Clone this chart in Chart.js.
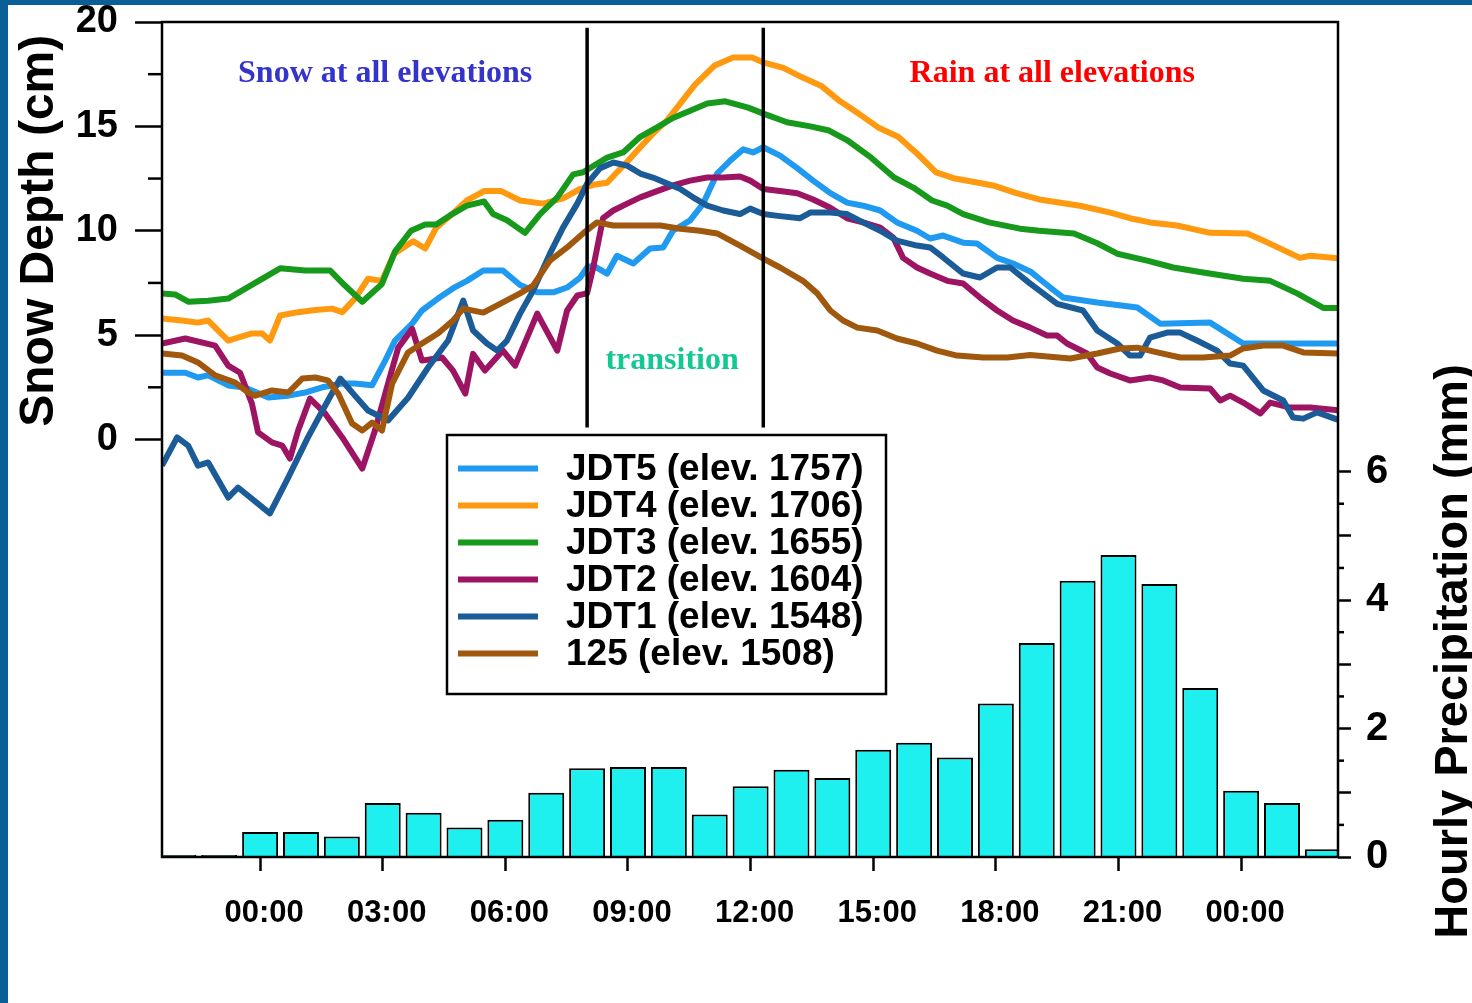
<!DOCTYPE html>
<html><head><meta charset="utf-8">
<script src="https://cdn.jsdelivr.net/npm/chart.js@4.4.1/dist/chart.umd.min.js"></script>
<style>
html,body{margin:0;padding:0;background:#0a5f96;width:1472px;height:1003px;overflow:hidden}
#wrap{position:absolute;left:8px;top:5px;width:1464px;height:998px;background:#fff}
canvas{display:block}
</style></head><body><div id="wrap"><canvas id="c" width="1464" height="998"></canvas></div>
<script>
// ---------- DATA (hours relative to 00:00 of day 1, snow depth in cm, precipitation in mm) ----------
const seriesLabels = ['JDT5 (elev. 1757)','JDT4 (elev. 1706)','JDT3 (elev. 1655)','JDT2 (elev. 1604)','JDT1 (elev. 1548)','125 (elev. 1508)'];

const jdt5 = [[-2.40,3.2],[-1.83,3.2],[-1.52,2.97],[-1.27,3.07],[-0.78,2.59],[-0.37,2.49],[0.20,2.01],[0.69,2.1],[1.10,2.25],[1.52,2.5],[2.01,2.68],[2.32,2.68],[2.74,2.6],[3.06,3.78],[3.30,4.74],[3.72,5.55],[3.96,6.18],[4.35,6.75],[4.77,7.3],[5.06,7.6],[5.46,8.1],[5.94,8.1],[6.36,7.4],[6.78,7.05],[7.17,7.05],[7.51,7.28],[7.83,7.76],[8.00,8.24],[8.15,8.33],[8.49,7.95],[8.73,8.8],[9.13,8.43],[9.54,9.15],[9.86,9.2],[10.10,10.0],[10.52,10.5],[10.84,11.3],[11.18,12.74],[11.50,13.36],[11.82,13.9],[12.06,13.75],[12.31,14.0],[12.72,13.6],[13.14,13.0],[13.53,12.4],[13.95,11.8],[14.36,11.35],[14.75,11.2],[15.17,10.97],[15.58,10.4],[16.07,10.0],[16.39,9.63],[16.71,9.77],[17.20,9.43],[17.54,9.39],[18.03,8.7],[18.42,8.43],[18.84,8.05],[19.33,7.28],[19.65,6.8],[20.48,6.56],[21.46,6.32],[22.02,5.55],[23.24,5.6],[24.05,4.6],[25.03,4.6],[26.42,4.6]];

const jdt4 = [[-2.40,5.8],[-1.91,5.7],[-1.52,5.6],[-1.27,5.7],[-0.78,4.74],[-0.20,5.08],[0.05,5.08],[0.24,4.74],[0.49,5.94],[0.93,6.1],[1.35,6.2],[1.76,6.27],[2.01,6.1],[2.32,6.75],[2.64,7.7],[2.98,7.6],[3.28,8.9],[3.74,9.5],[4.04,9.15],[4.31,10.15],[4.70,10.8],[5.06,11.45],[5.48,11.9],[5.90,11.9],[6.36,11.45],[6.92,11.3],[7.41,11.55],[7.83,12.0],[8.15,12.2],[8.49,12.3],[8.73,12.8],[8.98,13.3],[9.30,14.0],[9.61,14.65],[9.96,15.3],[10.28,16.1],[10.64,17.0],[11.11,17.9],[11.57,18.3],[12.04,18.3],[12.33,18.05],[12.80,17.8],[13.26,17.35],[13.72,16.95],[14.19,16.2],[14.65,15.6],[15.12,14.95],[15.61,14.5],[16.07,13.7],[16.54,12.8],[17.00,12.5],[17.57,12.3],[17.93,12.17],[18.50,11.8],[19.06,11.5],[20.06,11.2],[20.80,10.87],[21.28,10.6],[21.77,10.4],[22.43,10.25],[23.24,9.9],[24.15,9.87],[24.54,9.53],[25.44,8.7],[25.69,8.8],[26.42,8.67]];

const jdt3 = [[-2.40,7.0],[-2.08,6.95],[-1.76,6.6],[-1.27,6.65],[-0.78,6.75],[-0.12,7.5],[0.49,8.2],[1.10,8.1],[1.71,8.1],[2.01,7.5],[2.50,6.6],[2.98,7.45],[3.30,9.0],[3.69,10.0],[4.04,10.3],[4.31,10.3],[4.70,10.8],[5.06,11.2],[5.48,11.4],[5.70,10.8],[6.04,10.5],[6.48,9.9],[6.85,10.8],[7.27,11.6],[7.66,12.7],[7.90,12.8],[8.15,13.1],[8.49,13.5],[8.88,13.75],[9.30,14.5],[9.71,14.95],[10.10,15.4],[10.52,15.75],[10.94,16.1],[11.38,16.2],[11.94,15.9],[12.33,15.6],[12.89,15.2],[13.46,15.0],[13.92,14.8],[14.39,14.3],[14.95,13.5],[15.51,12.55],[15.98,12.07],[16.44,11.45],[16.81,11.2],[17.20,10.8],[17.83,10.4],[18.59,10.1],[19.06,10.0],[19.91,9.87],[20.48,9.4],[20.97,8.9],[21.70,8.57],[22.34,8.24],[23.07,8.0],[24.05,7.7],[24.71,7.6],[25.37,7.0],[26.01,6.3],[26.42,6.3]];

const jdt2 = [[-2.40,4.6],[-1.83,4.84],[-1.10,4.5],[-0.78,3.54],[-0.49,3.2],[-0.20,1.72],[-0.05,0.34],[0.29,-0.14],[0.54,-0.29],[0.73,-0.91],[0.93,0.43],[1.22,1.96],[1.59,1.25],[2.01,0.1],[2.50,-1.39],[2.81,0.43],[3.13,2.68],[3.38,4.4],[3.72,5.3],[3.96,3.78],[4.45,3.93],[4.72,3.3],[5.02,2.2],[5.21,4.1],[5.50,3.3],[5.94,4.26],[6.24,3.54],[6.78,6.03],[7.27,4.26],[7.51,6.18],[7.76,6.9],[8.00,7.0],[8.15,8.24],[8.39,10.6],[8.64,10.97],[8.98,11.3],[9.30,11.6],[9.71,11.9],[10.10,12.17],[10.52,12.4],[10.94,12.55],[11.33,12.55],[11.74,12.6],[11.99,12.4],[12.31,12.0],[12.72,11.9],[13.14,11.8],[13.53,11.5],[13.95,11.1],[14.36,10.6],[14.75,10.4],[15.17,10.15],[15.49,9.67],[15.73,8.7],[16.07,8.24],[16.39,7.95],[16.81,7.6],[17.20,7.47],[17.61,6.8],[18.03,6.18],[18.42,5.7],[18.84,5.36],[19.25,4.98],[19.50,4.98],[19.74,4.6],[20.23,4.12],[20.48,3.45],[20.80,3.16],[21.28,2.83],[21.77,2.97],[22.09,2.83],[22.51,2.49],[23.24,2.44],[23.49,1.87],[23.73,2.1],[24.05,1.77],[24.47,1.25],[24.71,1.77],[25.20,1.53],[25.69,1.53],[26.42,1.39]];

const jdt1 = [[-2.40,-1.25],[-2.03,0.1],[-1.76,-0.29],[-1.52,-1.25],[-1.27,-1.1],[-0.78,-2.78],[-0.54,-2.3],[0.24,-3.54],[0.69,-1.82],[1.17,0.1],[1.66,1.87],[1.96,2.92],[2.32,2.1],[2.64,1.39],[3.13,0.91],[3.62,2.0],[4.11,3.45],[4.60,4.74],[4.72,5.36],[4.97,6.66],[5.21,5.22],[5.55,4.6],[5.80,4.26],[6.04,4.74],[6.36,6.03],[6.68,7.14],[7.09,8.9],[7.41,10.15],[7.76,11.3],[8.00,12.26],[8.32,13.0],[8.64,13.27],[8.98,13.12],[9.30,12.74],[9.61,12.55],[9.96,12.26],[10.28,12.0],[10.59,11.6],[10.94,11.2],[11.33,10.97],[11.74,10.8],[11.99,11.06],[12.31,10.8],[12.72,10.7],[13.21,10.6],[13.46,10.87],[13.95,10.87],[14.36,10.8],[14.75,10.4],[15.17,10.0],[15.58,9.53],[16.07,9.29],[16.39,9.2],[16.71,8.72],[17.20,7.95],[17.61,7.76],[18.03,8.24],[18.35,8.24],[18.84,7.47],[19.50,6.5],[20.13,6.18],[20.48,5.22],[20.97,4.6],[21.28,4.02],[21.53,4.02],[21.77,4.88],[22.19,5.12],[22.51,5.12],[22.92,4.74],[23.41,4.26],[23.73,3.64],[24.05,3.54],[24.54,2.35],[25.03,1.87],[25.27,1.05],[25.52,1.0],[25.86,1.3],[26.42,0.91]];

const site125 = [[-2.40,4.12],[-1.91,4.02],[-1.52,3.69],[-1.10,3.07],[-0.61,2.73],[-0.29,2.25],[-0.12,2.1],[0.29,2.35],[0.69,2.25],[1.03,2.92],[1.35,2.97],[1.66,2.83],[1.91,2.2],[2.25,0.77],[2.50,0.43],[2.74,0.81],[2.98,0.43],[3.23,2.68],[3.62,4.17],[3.96,4.6],[4.35,5.08],[4.72,5.7],[4.97,6.27],[5.46,6.08],[5.87,6.5],[6.36,7.0],[6.68,7.38],[7.09,8.57],[7.51,9.2],[7.90,9.87],[8.24,10.4],[8.64,10.25],[9.30,10.25],[9.79,10.25],[10.28,10.1],[10.76,10.0],[11.18,9.87],[11.74,9.29],[12.31,8.67],[12.72,8.24],[13.28,7.6],[13.63,7.0],[13.95,6.18],[14.26,5.7],[14.61,5.36],[15.10,5.22],[15.58,4.84],[16.07,4.6],[16.56,4.26],[17.05,4.02],[17.69,3.93],[18.28,3.93],[18.84,4.05],[19.82,3.88],[20.48,4.12],[21.04,4.36],[21.46,4.4],[21.95,4.17],[22.51,3.93],[23.07,3.93],[23.73,4.02],[24.05,4.36],[24.54,4.5],[25.03,4.5],[25.52,4.17],[26.42,4.12]];

const precipHours = [-2,-1,0,1,2,3,4,5,6,7,8,9,10,11,12,13,14,15,16,17,18,19,20,21,22,23,24,25,26];
const precipMm    = [0.03,0.03,0.39,0.39,0.32,0.84,0.69,0.46,0.58,1.0,1.38,1.4,1.4,0.66,1.1,1.36,1.23,1.67,1.78,1.55,2.39,3.33,4.30,4.70,4.25,2.63,1.03,0.84,0.12];

const timeTicks      = [0,3,6,9,12,15,18,21,24];
const timeTickLabels = ['00:00','03:00','06:00','09:00','12:00','15:00','18:00','21:00','00:00'];
const snowTicks      = [0,5,10,15,20];
const snowMinorTicks = [2.5,7.5,12.5,17.5];
const precipTicks    = [0,1,2,3,4,5,6];
const precipTickLabels = ['0','','2','','4','','6'];
const precipMinorTicks = [0.5,1.5,2.5,3.5,4.5,5.5];
const transitionHours = [8.0, 12.31];
const transitionDepthRange = [0.57, 19.73];

// ---------- CHART ----------
const seriesData = [jdt5, jdt4, jdt3, jdt2, jdt1, site125];
const seriesColors = ['#1f9af0','#ff990f','#17991c','#9c1462','#1b5b98','#a0580f'];

const lineSets = seriesData.map((s, i) => ({
  type: 'line', label: seriesLabels[i], inLegend: true,
  data: s.map(p => ({x: p[0], y: p[1]})),
  borderColor: seriesColors[i], backgroundColor: seriesColors[i],
  borderWidth: 6, pointRadius: 0, tension: 0, yAxisID: 'yS', xAxisID: 'x',
  order: seriesData.length - i, borderJoinStyle: 'round'
}));

const transitionSets = transitionHours.map(h => ({
  type: 'line', label: 'transition', inLegend: false,
  data: transitionDepthRange.map(d => ({x: h, y: d})),
  borderColor: '#000', borderWidth: 3.5, pointRadius: 0, yAxisID: 'yS', xAxisID: 'x', order: 0
}));

const barSet = {
  type: 'bar', label: 'Hourly Precipitation', inLegend: false,
  data: precipHours.map((h, i) => ({x: h, y: precipMm[i]})),
  backgroundColor: '#1ef0f0', borderColor: '#000', borderWidth: 2,
  barPercentage: 0.88, categoryPercentage: 1.0,
  yAxisID: 'yP', xAxisID: 'x', order: 10
};

const annotations = [
  {text: 'Snow at all elevations', hour: 3.06, depth: 17.53, color: '#3434cc'},
  {text: 'Rain at all elevations', hour: 19.38, depth: 17.53, color: '#ff0000'},
  {text: 'transition', hour: 10.08, depth: 3.78, color: '#14c896'}
];

function zeroPad(s){ s.paddingTop = 0; s.paddingBottom = 0; s.paddingLeft = 0; s.paddingRight = 0; }

const decor = {
  id: 'decor',
  afterDatasetsDraw(chart) {
    const {ctx, chartArea: a, scales} = chart;
    const xs = scales.x, ys = scales.yS, yp = scales.yP;
    const seg = (x1,y1,x2,y2) => { ctx.beginPath(); ctx.moveTo(x1,y1); ctx.lineTo(x2,y2); ctx.stroke(); };
    ctx.save();
    // frame
    ctx.strokeStyle = '#000'; ctx.lineWidth = 2.5;
    ctx.strokeRect(a.left, a.top, a.right - a.left, a.bottom - a.top);
    // minor ticks
    ctx.lineWidth = 2.5;
    snowMinorTicks.forEach(v => { const y = ys.getPixelForValue(v); seg(a.left - 14, y, a.left, y); });
    precipMinorTicks.forEach(v => { const y = yp.getPixelForValue(v); seg(a.right, y, a.right + 6, y); });
    // annotations
    ctx.font = 'bold 32px "Liberation Serif"';
    ctx.textAlign = 'center'; ctx.textBaseline = 'middle';
    annotations.forEach(t => { ctx.fillStyle = t.color; ctx.fillText(t.text, xs.getPixelForValue(t.hour), ys.getPixelForValue(t.depth)); });
    // legend
    const L = {x: a.left + 285, y: a.top + 413, w: 439, h: 259};
    ctx.fillStyle = '#fff'; ctx.fillRect(L.x, L.y, L.w, L.h);
    ctx.strokeStyle = '#000'; ctx.lineWidth = 2.5; ctx.strokeRect(L.x, L.y, L.w, L.h);
    ctx.font = 'bold 37px "Liberation Sans"'; ctx.textAlign = 'left'; ctx.textBaseline = 'middle';
    chart.data.datasets.filter(d => d.inLegend).forEach((d, i) => {
      const cy = L.y + 33.5 + i * 37;
      ctx.strokeStyle = d.borderColor; ctx.lineWidth = 6; seg(L.x + 11, cy, L.x + 91, cy);
      ctx.fillStyle = '#000'; ctx.fillText(d.label, L.x + 119, cy + 1);
    });
    // axis titles
    ctx.fillStyle = '#000'; ctx.font = 'bold 48px "Liberation Sans"';
    ctx.textAlign = 'center'; ctx.textBaseline = 'alphabetic';
    ctx.save(); ctx.translate(45, ys.getPixelForValue(10)); ctx.rotate(-Math.PI/2); ctx.fillText('Snow Depth (cm)', 0, 0); ctx.restore();
    ctx.font = 'bold 47px "Liberation Sans"';
    ctx.save(); ctx.translate(a.right + 129, yp.getPixelForValue(3.2)); ctx.rotate(-Math.PI/2); ctx.fillText('Hourly Precipitation (mm)', 0, 0); ctx.restore();
    ctx.restore();
  }
};

new Chart(document.getElementById('c'), {
  type: 'bar',
  data: { datasets: [...lineSets, ...transitionSets, barSet] },
  options: {
    responsive: false, animation: false, devicePixelRatio: 1,
    layout: { padding: {top: 17, left: 0, right: 0, bottom: 0} },
    plugins: { legend: {display: false}, tooltip: {enabled: false}, title: {display: false} },
    scales: {
      x: {
        type: 'linear', position: 'bottom', min: -2.4, max: 26.37, offset: false,
        afterBuildTicks: s => { s.ticks = timeTicks.map(v => ({value: v})); },
        afterFit: s => { s.height = 146; zeroPad(s); },
        border: {display: false},
        grid: {display: true, drawOnChartArea: false, drawTicks: true, tickLength: 14, tickWidth: 2.5, tickColor: '#000', offset: false},
        ticks: {autoSkip: false, maxRotation: 0, padding: 24, labelOffset: 4, color: '#000',
          font: {family: 'Liberation Sans', weight: 'bold', size: 31},
          callback: (v) => timeTickLabels[timeTicks.indexOf(v)] ?? ''}
      },
      yS: {
        type: 'linear', position: 'left', min: -20, max: 20,
        afterBuildTicks: s => { s.ticks = snowTicks.map(v => ({value: v})); },
        afterFit: s => { s.width = 154; zeroPad(s); },
        border: {display: false},
        grid: {drawOnChartArea: false, drawTicks: true, tickLength: 27, tickWidth: 2.5, tickColor: '#000'},
        ticks: {autoSkip: false, padding: 17, color: '#000',
          font: {family: 'Liberation Sans', weight: 'bold', size: 38}}
      },
      yP: {
        type: 'linear', position: 'right', min: 0, max: 13,
        afterBuildTicks: s => { s.ticks = precipTicks.map(v => ({value: v})); },
        afterFit: s => { s.width = 134; zeroPad(s); },
        border: {display: false},
        grid: {drawOnChartArea: false, drawTicks: true, tickLength: 13, tickWidth: 2.5, tickColor: '#000'},
        ticks: {autoSkip: false, padding: 15, color: '#000',
          font: {family: 'Liberation Sans', weight: 'bold', size: 40},
          callback: (v) => precipTickLabels[precipTicks.indexOf(v)] ?? ''}
      }
    }
  },
  plugins: [decor]
});
</script></body></html>
